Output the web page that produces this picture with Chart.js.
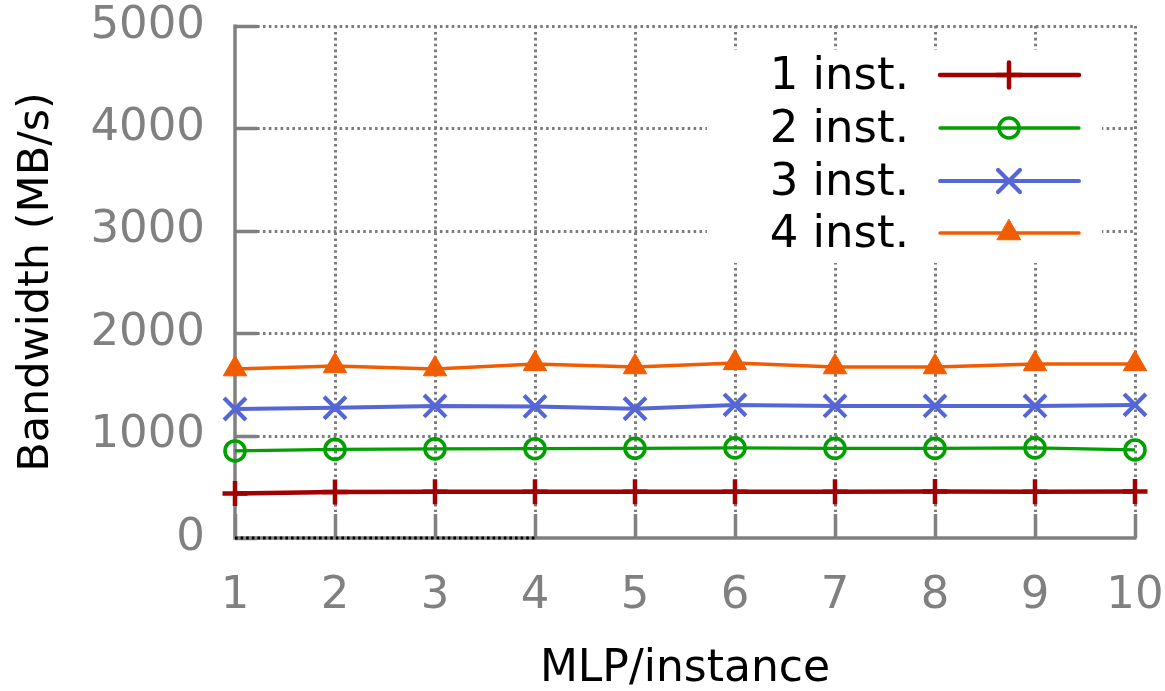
<!DOCTYPE html>
<html>
<head>
<meta charset="utf-8">
<script src="https://cdn.jsdelivr.net/npm/chart.js@4/dist/chart.umd.min.js"></script>
<style>
  html, body { margin: 0; padding: 0; background: #ffffff; }
  #wrap { width: 1165px; height: 691px; }
</style>
</head>
<body>
<div id="wrap"><canvas id="c" width="1165" height="691"></canvas></div>
<script>
// MLP per instance (x axis)
const mlp = [1, 2, 3, 4, 5, 6, 7, 8, 9, 10];

// Bandwidth in MB/s for 1..4 concurrent instances
const inst1 = [435, 450, 452, 452, 452, 452, 452, 455, 452, 455];
const inst2 = [850, 865, 870, 872, 876, 880, 875, 875, 880, 860];
const inst3 = [1260, 1272, 1290, 1285, 1262, 1300, 1290, 1290, 1290, 1300];
const inst4 = [1650, 1680, 1650, 1700, 1670, 1710, 1670, 1670, 1700, 1700];

// short zero-valued run along the x axis
const zeroRunX = [1, 2, 3, 4];
const zeroRunY = [0, 0, 0, 0];

// axis ticks
const yTicks = [0, 1000, 2000, 3000, 4000, 5000];
const xTicks = mlp;

const seriesNames = ['1 inst.', '2 inst.', '3 inst.', '4 inst.'];

const FONT = "'DejaVu Sans', sans-serif";
const GRAY = '#808080';

const pts = (xs, ys) => xs.map((x, i) => ({ x: x, y: ys[i] }));

// dotted grid, solid axes and inward tick marks
const frame = {
  id: 'frame',
  beforeDatasetsDraw(chart) {
    const { ctx, chartArea: a, scales: { x, y } } = chart;
    ctx.save();
    ctx.strokeStyle = '#7c7c7c';
    ctx.lineWidth = 3;
    ctx.setLineDash([2.6, 3.3]);
    yTicks.forEach(v => {
      if (v === yTicks[0]) return;
      const py = Math.round(y.getPixelForValue(v)) + 0.5;
      ctx.beginPath(); ctx.moveTo(a.left + 22, py); ctx.lineTo(a.right, py); ctx.stroke();
    });
    xTicks.forEach(v => {
      if (v === xTicks[0]) return;
      const px = Math.round(x.getPixelForValue(v)) + 0.5;
      ctx.beginPath(); ctx.moveTo(px, a.top); ctx.lineTo(px, a.bottom - 26); ctx.stroke();
    });
    ctx.setLineDash([]);
    ctx.strokeStyle = GRAY;
    ctx.lineWidth = 3.5;
    ctx.beginPath();
    ctx.moveTo(a.left, a.top - 1.5);
    ctx.lineTo(a.left, a.bottom);
    ctx.lineTo(a.right + 1.5, a.bottom);
    ctx.stroke();
    ctx.beginPath();
    yTicks.forEach(v => {
      const py = Math.round(y.getPixelForValue(v)) + 0.5;
      ctx.moveTo(a.left, py); ctx.lineTo(a.left + 22, py);
    });
    xTicks.forEach(v => {
      const px = Math.round(x.getPixelForValue(v)) + 0.5;
      ctx.moveTo(px, a.bottom); ctx.lineTo(px, a.bottom - 24);
    });
    ctx.stroke();
    ctx.restore();
  }
};

function marker(ctx, ds, x, y) {
  const opts = {
    pointStyle: ds.pointStyle,
    radius: ds.pointRadius,
    rotation: 0,
    borderWidth: ds.pointBorderWidth
  };
  ctx.save();
  ctx.strokeStyle = ds.borderColor;
  ctx.fillStyle = ds.pointBackgroundColor;
  ctx.lineWidth = ds.pointBorderWidth;
  Chart.helpers.drawPoint(ctx, opts, x, y);
  ctx.restore();
}

// key box in the upper right
const key = {
  id: 'key',
  afterDatasetsDraw(chart) {
    const { ctx } = chart;
    ctx.save();
    ctx.fillStyle = '#ffffff';
    ctx.fillRect(707, 50, 395, 213);
    const rows = [75, 128, 181, 233];
    seriesNames.forEach((name, i) => {
      const ds = chart.data.datasets[i];
      const ry = rows[i];
      ctx.fillStyle = '#000000';
      ctx.font = '45px ' + FONT;
      ctx.textAlign = 'right';
      ctx.textBaseline = 'middle';
      ctx.fillText(name, 909, ry + 2);
      ctx.strokeStyle = ds.borderColor;
      ctx.lineWidth = ds.borderWidth;
      ctx.lineCap = 'round';
      ctx.beginPath(); ctx.moveTo(940, ry); ctx.lineTo(1079, ry); ctx.stroke();
      marker(ctx, ds, 1009, ry);
    });
    ctx.restore();
  }
};

function series(label, data, color, style, radius, lw, pbw, fill) {
  return {
    label: label,
    data: pts(mlp, data),
    borderColor: color,
    backgroundColor: color,
    borderWidth: lw,
    pointStyle: style,
    pointRadius: radius,
    pointHoverRadius: radius,
    pointBorderWidth: pbw,
    pointBorderColor: color,
    pointBackgroundColor: fill,
    tension: 0,
    clip: false
  };
}

new Chart(document.getElementById('c'), {
  type: 'line',
  data: {
    datasets: [
      series(seriesNames[0], inst1, '#a00000', 'cross', 12.5, 4.5, 4.5, '#a00000'),
      series(seriesNames[1], inst2, '#00a000', 'circle', 10, 3.3, 3.6, 'rgba(0,0,0,0)'),
      series(seriesNames[2], inst3, '#5566d6', 'crossRot', 15.5, 4, 4.2, '#5566d6'),
      series(seriesNames[3], inst4, '#f25c00', 'triangle', 13.5, 3.5, 1, '#f25c00'),
      {
        label: 'zero',
        data: pts(zeroRunX, zeroRunY),
        borderColor: '#000000',
        borderWidth: 3,
        borderDash: [2.6, 3],
        pointRadius: 0,
        clip: false
      }
    ]
  },
  options: {
    responsive: false,
    animation: false,
    devicePixelRatio: 1,
    layout: { padding: { left: 0, right: 30, top: 26, bottom: 0 } },
    plugins: { legend: { display: false }, tooltip: { enabled: false } },
    scales: {
      x: {
        type: 'linear',
        min: 1, max: 10,
        afterBuildTicks(s) { s.ticks = xTicks.map(v => ({ value: v })); },
        afterFit(s) { s.height = 153; s.paddingLeft = 0; s.paddingRight = 0; },
        grid: { display: false },
        border: { display: false },
        ticks: { color: GRAY, font: { family: FONT, size: 45 }, padding: 23, maxRotation: 0, callback: v => String(v) },
        title: { display: true, text: 'MLP/instance', color: '#000000', font: { family: FONT, size: 44 }, padding: { top: 0, bottom: -5 } }
      },
      y: {
        type: 'linear',
        min: 0, max: 5000,
        afterBuildTicks(s) { s.ticks = yTicks.map(v => ({ value: v })); },
        afterFit(s) { s.width = 235; s.paddingTop = 0; s.paddingBottom = 0; },
        grid: { display: false },
        border: { display: false },
        ticks: { color: GRAY, font: { family: FONT, size: 45 }, padding: 22, callback: v => String(v) },
        title: { display: true, text: 'Bandwidth (MB/s)', color: '#000000', font: { family: FONT, size: 43 }, padding: { top: 11, bottom: 0 } }
      }
    }
  },
  plugins: [frame, key]
});
</script>
</body>
</html>
